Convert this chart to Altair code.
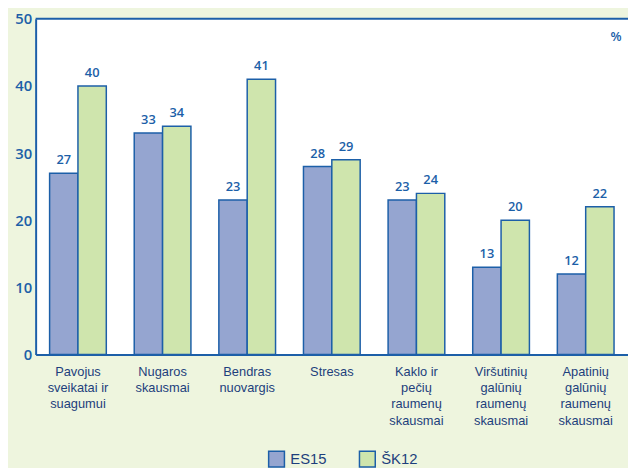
import altair as alt
import pandas as pd

categories = [
    "Pavojus|sveikatai ir|suagumui",
    "Nugaros|skausmai",
    "Bendras|nuovargis",
    "Stresas",
    "Kaklo ir|pečių|raumenų|skausmai",
    "Viršutinių|galūnių|raumenų|skausmai",
    "Apatinių|galūnių|raumenų|skausmai",
]
series = ["ES15", "ŠK12"]
es15 = [27, 33, 23, 28, 23, 13, 12]
sk12 = [40, 34, 41, 29, 24, 20, 22]
y_ticks = [0, 10, 20, 30, 40, 50]

BLUE = "#1c5fa8"
NAVY = "#1d3f7c"
BG = "#eef5de"
COLORS = ["#95a5d0", "#cfe5ad"]

rows = []
for c, a, b in zip(categories, es15, sk12):
    rows.append({"cat": c, "series": series[0], "value": a})
    rows.append({"cat": c, "series": series[1], "value": b})
df = pd.DataFrame(rows)

base = alt.Chart(df).encode(
    x=alt.X(
        "cat:N",
        sort=categories,
        scale=alt.Scale(paddingInner=0.33, paddingOuter=0.165),
        axis=alt.Axis(
            title=None,
            labelExpr="split(datum.label, '|')",
            labelAngle=0,
            ticks=False,
            domainColor=BLUE,
            domainWidth=2,
            labelFont="Liberation Sans",
            labelFontSize=13,
            labelColor=NAVY,
            labelPadding=11,
            labelLineHeight=16.5,
        ),
    ),
    xOffset=alt.XOffset("series:N", sort=series,
                        scale=alt.Scale(paddingInner=0, paddingOuter=0)),
)

bars = base.mark_bar(stroke=BLUE, strokeWidth=1.5).encode(
    y=alt.Y(
        "value:Q",
        scale=alt.Scale(domain=[0, 50], nice=False),
        axis=alt.Axis(
            values=y_ticks,
            title=None,
            ticks=False,
            grid=False,
            domainColor=BLUE,
            domainWidth=2,
            labelPadding=4,
            labelFont="Open Sans",
            labelFontSize=15,
            labelFontWeight=600,
            labelColor=BLUE,
        ),
    ),
    color=alt.Color(
        "series:N",
        sort=series,
        scale=alt.Scale(domain=series, range=COLORS),
        legend=alt.Legend(
            title=None,
            orient="none",
            legendX=235,
            legendY=437,
            direction="horizontal",
            symbolType="square",
            symbolSize=256,
            symbolStrokeColor=BLUE,
            symbolStrokeWidth=1.5,
            symbolOpacity=1,
            labelFont="Liberation Sans",
            labelFontSize=15,
            labelColor=NAVY,
            labelOffset=5,
            columnPadding=30,
        ),
    ),
)

labels = base.mark_text(
    dy=-6, baseline="bottom", font="Open Sans", fontSize=13,
    fontWeight=600, color=BLUE
).encode(y=alt.Y("value:Q"), text=alt.Text("value:Q"))

top_rule = alt.Chart(pd.DataFrame({"y": [50]})).mark_rule(
    color=BLUE, strokeWidth=2
).encode(y="y:Q")

pct = alt.Chart(pd.DataFrame({"t": ["%"]})).mark_text(
    font="Open Sans", fontSize=13, fontWeight=600, color=BLUE, align="center"
).encode(x=alt.value(588), y=alt.value(18), text="t:N")

chart = (
    alt.layer(bars, labels, top_rule, pct)
    .properties(
        width=600,
        height=340,
        background=BG,
        padding={"left": 28, "top": 8, "right": 0, "bottom": 112},
        autosize=alt.AutoSizeParams(type="none"),
    )
    .configure_view(stroke=None, fill="white")
)

chart.save("out.html", embed_options={"renderer": "svg", "actions": False})
